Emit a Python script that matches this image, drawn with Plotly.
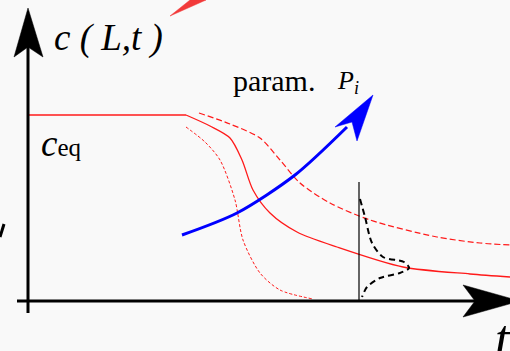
import plotly.graph_objects as go

# ==========================================
# Diagram data (pixel-like coordinates, y grows downward)
# ==========================================

# c(L,t) curves for different parameters P_i
solid_x = [28, 186, 210, 230, 242, 253, 270, 297, 337, 403, 470, 510]
solid_y = [115, 115, 126, 138, 160, 190, 213, 232, 247, 267, 274, 277]

long_dash_x = [199, 230, 260, 280, 300, 330, 370, 437, 480, 510]
long_dash_y = [113, 124, 138, 160, 183, 203, 220, 237, 243, 245]

short_dash_x = [186, 205, 220, 235, 243, 260, 280, 313]
short_dash_y = [127, 142, 160, 200, 240, 273, 290, 299]

# distribution at a fixed time
dist_x = [360, 365, 372, 383, 404, 409, 400, 380, 367, 362]
dist_y = [199, 217, 243, 257, 262, 268, 273, 278, 287, 297]
time_mark_x = [359, 359]
time_mark_y = [182, 300]

# blue "param. P_i" arrow
param_x = [182, 237, 295, 347]
param_y = [235, 213, 175, 127]
param_head_x = [373, 357, 352, 335, 373]
param_head_y = [95, 141, 122, 127, 95]

# axes and their arrow heads
y_axis_x = [28, 28]
y_axis_y = [313, 45]
y_head_x = [28, 43, 28, 14, 28]
y_head_y = [8, 57, 47, 57, 8]
x_axis_x = [17, 480]
x_axis_y = [301, 301]
x_head_x = [463, 520, 463, 475, 463]
x_head_y = [285, 301, 317, 301, 285]

# stray red head at the top edge, partial
red_head_x = [170, 190, 206, 170]
red_head_y = [16, 0, 0, 16]

# stray mark on the left edge
stray_x = [0, 4]
stray_y = [237, 224]

RED = "#ff1a1a"

fig = go.Figure()


def line(x, y, color, width, dash="solid", shape="spline"):
    fig.add_trace(go.Scatter(
        x=x, y=y, mode="lines",
        line=dict(color=color, width=width, dash=dash, shape=shape, smoothing=0.8),
        hoverinfo="skip",
    ))


def poly(x, y, color):
    fig.add_trace(go.Scatter(
        x=x, y=y, mode="lines", fill="toself", fillcolor=color,
        line=dict(color=color, width=0.5), hoverinfo="skip",
    ))


# plateau at c_eq, then the smooth drop
line(solid_x[:2], solid_y[:2], RED, 1.3, shape="linear")
line(solid_x[1:], solid_y[1:], RED, 1.3)
line(long_dash_x, long_dash_y, RED, 1.2, dash="6px,3px")
line(short_dash_x, short_dash_y, RED, 1.0, dash="3px,2px")

line(time_mark_x, time_mark_y, "black", 1.2, shape="linear")
line(dist_x, dist_y, "black", 2, dash="6px,4px")

line(param_x, param_y, "#0000ff", 3)
poly(param_head_x, param_head_y, "#0000ff")

line(y_axis_x, y_axis_y, "black", 3, shape="linear")
poly(y_head_x, y_head_y, "black")
line(x_axis_x, x_axis_y, "black", 3, shape="linear")
poly(x_head_x, x_head_y, "black")

poly(red_head_x, red_head_y, "#f23a3a")
line(stray_x, stray_y, "black", 3, shape="linear")

serif = "Liberation Serif, Times New Roman, serif"
fig.add_annotation(x=52, y=38, text="<i>c ( L,t )</i>", showarrow=False,
                   xanchor="left", yanchor="middle", font=dict(family=serif, size=37, color="black"))
fig.add_annotation(x=39, y=143, text="<i>c</i><span style='font-size:25px'>eq</span>",
                   showarrow=False, xanchor="left", yanchor="middle",
                   font=dict(family=serif, size=37, color="black"))
fig.add_annotation(x=231, y=80, text="param.", showarrow=False,
                   xanchor="left", yanchor="middle", font=dict(family=serif, size=30, color="black"))
fig.add_annotation(x=335, y=82, text="<i>P<sub>i</sub></i>", showarrow=False,
                   xanchor="left", yanchor="middle", font=dict(family=serif, size=26, color="black"))
fig.add_annotation(x=493, y=338, text="<i>t</i>", showarrow=False,
                   xanchor="left", yanchor="middle", font=dict(family=serif, size=52, color="black"))

fig.update_xaxes(range=[0, 510], visible=False, fixedrange=True)
fig.update_yaxes(range=[351, 0], visible=False, fixedrange=True)
fig.update_layout(
    width=510, height=351,
    margin=dict(l=0, r=0, t=0, b=0),
    showlegend=False,
    paper_bgcolor="#f9f9f9",
    plot_bgcolor="#f9f9f9",
)

fig.write_html("out.html", config={"staticPlot": True},
               post_script="document.body.style.margin='0';document.body.style.overflow='hidden';")
